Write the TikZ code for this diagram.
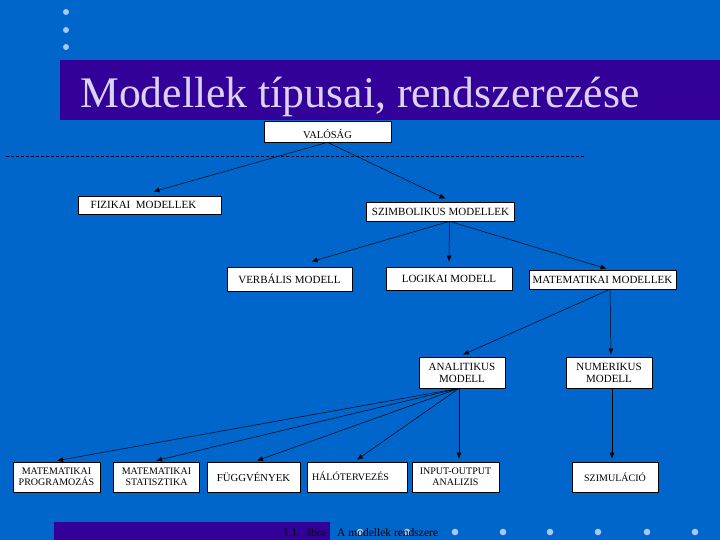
\documentclass[tikz,border=0pt]{standalone}
\usepackage{fontspec}
\setmainfont{Liberation Serif}
\usetikzlibrary{arrows.meta}
\definecolor{bgblue}{RGB}{0,102,204}
\definecolor{barpurple}{RGB}{51,0,153}
\definecolor{titletxt}{RGB}{218,212,242}
\definecolor{dotblue}{RGB}{168,200,240}
\tikzset{
  box/.style={draw=black, line width=0.7pt, fill=white, text=black, inner sep=0pt, align=center, font=\fontsize{11}{12}\selectfont},
  lowbox/.style={box, font=\fontsize{10}{11}\selectfont},
  arr/.style={-{Latex[length=6pt,width=5pt]}, line width=0.5pt, black},
  dot/.style={fill=dotblue, draw=none},
}
\begin{document}
\begin{tikzpicture}[x=1pt,y=-1pt]
\useasboundingbox (0,0) rectangle (720,540);
\fill[bgblue] (0,0) rectangle (720,540);
% top-left dots
\foreach \yy in {12,30,47} \fill[dot] (66,\yy) circle (3pt);
% title bar
\fill[barpurple] (60,60) rectangle (720,120);
\node[anchor=base west, inner sep=0pt, text=titletxt, font=\fontsize{43.7}{48}\selectfont] (title) at (80,108) {Modellek típusai, rendszerezése};
% dashed separator
\coordinate (dl) at (6,156);
\coordinate (dr) at (585,156);
\draw[black!85!blue, line width=0.6pt, dash pattern=on 3pt off 2pt] (dl) -- (dr);
% footer
\fill[barpurple] (54,522) rectangle (330,540);
\foreach \xx in {360,407,455,503,550,598,647,695} \fill[dot] (\xx,532) circle (3.3pt);
\node[anchor=base east, inner sep=0pt, text=black, font=\fontsize{11.5}{12}\selectfont] (fig) at (326,536) {1.1.\ \ ábra};
\node[anchor=base west, inner sep=0pt, text=black, font=\fontsize{11.5}{12}\selectfont] (cap) at (337,536) {A modellek rendszere};
% nodes
\node[box, minimum width=127pt, minimum height=21pt, font=\fontsize{10.5}{12}\selectfont] (val) at (327.5,131.5) {\raisebox{-7pt}[0pt][0pt]{VALÓSÁG}};
\node[box, minimum width=143pt, minimum height=18pt] (fiz) at (149.5,205) {\hspace*{-12pt}FIZIKAI\ \ MODELLEK};
\node[box, minimum width=148pt, minimum height=19pt] (szi) at (440.5,211.5) {SZIMBOLIKUS MODELLEK};
\node[box, minimum width=125pt, minimum height=24pt] (ver) at (289.5,279) {VERBÁLIS MODELL};
\node[box, minimum width=126pt, minimum height=23pt] (log) at (449,278.5) {LOGIKAI MODELL};
\node[box, minimum width=147pt, minimum height=19pt] (mat) at (602.5,279.5) {MATEMATIKAI MODELLEK};
\node[box, minimum width=86pt, minimum height=31pt] (ana) at (462,372.5) {ANALITIKUS\\MODELL};
\node[box, minimum width=86pt, minimum height=31pt] (num) at (609,372.5) {NUMERIKUS\\MODELL};
\node[lowbox, minimum width=87pt, minimum height=30pt] (prg) at (56.5,477) {MATEMATIKAI\\PROGRAMOZÁS};
\node[lowbox, minimum width=86pt, minimum height=30pt] (sta) at (156.5,477) {MATEMATIKAI\\STATISZTIKA};
\node[lowbox, minimum width=93pt, minimum height=30pt, font=\fontsize{10.7}{12}\selectfont] (fug) at (253.5,477) {FÜGGVÉNYEK};
\node[lowbox, minimum width=100pt, minimum height=30pt] (hal) at (357,477) {\hspace*{-13pt}\raisebox{-3pt}[0pt][0pt]{HÁLÓTERVEZÉS}};
\node[lowbox, minimum width=87pt, minimum height=30pt] (ino) at (455.5,477) {INPUT-OUTPUT\\ANALIZIS};
\node[lowbox, minimum width=86pt, minimum height=30pt] (sim) at (615,477) {SZIMULÁCIÓ};
% connectors
\draw[arr] (val.south) -- ([xshift=4pt,yshift=4pt]fiz.north);
\draw[arr] (val.south) -- ([xshift=5pt,yshift=3pt]szi.north);
\draw[arr] ([xshift=9pt]szi.south) -- ([xshift=22pt,yshift=5pt]ver.north);
\draw[arr] ([xshift=9pt]szi.south) -- ([yshift=5pt]log.north);
\draw[arr] ([xshift=9pt]szi.south) -- ([xshift=4pt,yshift=1pt]mat.north);
\draw[arr] ([xshift=7.5pt]mat.south) -- ([xshift=1pt,yshift=2pt]ana.north);
\draw[arr] ([xshift=7.5pt]mat.south) -- ([xshift=2pt,yshift=2pt]num.north);
\draw[arr] ([xshift=-3pt]ana.south) -- ([xshift=0.5pt,yshift=1pt]prg.north);
\draw[arr] ([xshift=-3pt]ana.south) -- ([xshift=-0.5pt,yshift=1pt]sta.north);
\draw[arr] ([xshift=-3pt]ana.south) -- ([xshift=3.5pt,yshift=1pt]fug.north);
\draw[arr] ([xshift=-3pt]ana.south) -- ([xshift=0pt,yshift=2pt]hal.north);
\draw[arr] ([xshift=-3pt]ana.south) -- ([xshift=3.5pt,yshift=3pt]ino.north);
\draw[arr] ([xshift=3pt]num.south) -- ([xshift=-3pt,yshift=3pt]sim.north);
\end{tikzpicture}
\end{document}
